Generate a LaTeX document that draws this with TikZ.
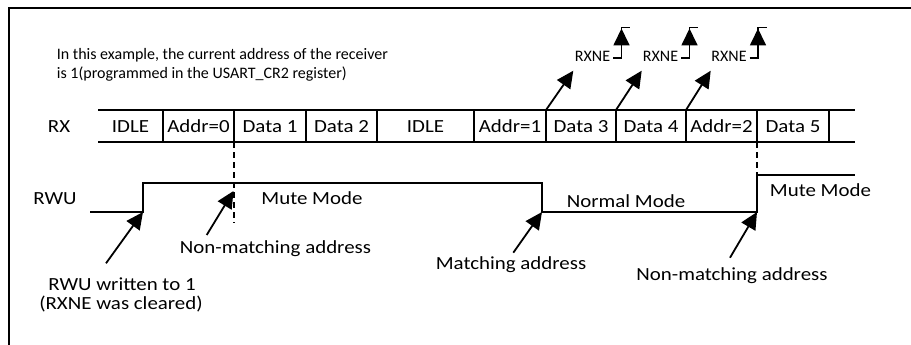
\documentclass[tikz,border=0pt]{standalone}
\usepackage{fontspec}
\setmainfont{Carlito}
\newfontfamily\lblfont[FakeStretch=1.13]{Carlito}
\usetikzlibrary{arrows.meta}
\begin{document}
\begin{tikzpicture}[x=1pt,y=-1pt,
  lbl/.style={font=\lblfont\fontsize{18.5}{22}\selectfont, inner sep=0pt, anchor=base},
  sml/.style={font=\fontsize{16}{18}\selectfont, inner sep=0pt, anchor=base west},
  rxnelbl/.style={font=\fontsize{16}{18}\selectfont, inner sep=0pt, anchor=base},
  sig/.style={line width=1.8pt},
  framel/.style={line width=2.3pt},
  dashln/.style={line width=1.8pt, dash pattern=on 6pt off 4pt},
  arr/.style={line width=1.8pt, -{Triangle[length=17pt,width=16pt]}},
]
\useasboundingbox (0,0) rectangle (911,345);
\fill[white] (0,0) rectangle (911,345);

% frame
\coordinate (fbl) at (9,345);
\coordinate (ftl) at (9,8);
\coordinate (ftr) at (911,8);
\draw[framel] (fbl) -- (ftl) -- (ftr);

% note
\node[sml] (note1) at (56.7,60) {In this example, the current address of the receiver};
\node[sml] (note2) at (56.7,78) {is 1(programmed in the USART\_CR2 register)};

% RX row
\coordinate (rxTL) at (98,110);
\coordinate (rxTR) at (855,110);
\coordinate (rxBL) at (98,142);
\coordinate (rxBR) at (855,142);
\draw[sig] (rxTL) -- (rxTR);
\draw[sig] (rxBL) -- (rxBR);
\foreach \x/\n in {163/s1,234/s2,306/s3,377/s4,474/s5,546/s6,616/s7,686/s8,757/s9,829/s10}{
  \coordinate (\n t) at (\x,110);
  \coordinate (\n b) at (\x,142);
  \draw[sig] (\n t) -- (\n b);
}
\node[lbl] (rxlab) at (59,132) {RX};
\node[lbl] (c1) at (130.5,132) {IDLE};
\node[lbl] (c2) at (198.5,132) {Addr=0};
\node[lbl] (c3) at (270,132) {Data 1};
\node[lbl] (c4) at (341.5,132) {Data 2};
\node[lbl] (c5) at (425.5,132) {IDLE};
\node[lbl] (c6) at (510,132) {Addr=1};
\node[lbl] (c7) at (581,132) {Data 3};
\node[lbl] (c8) at (651,132) {Data 4};
\node[lbl] (c9) at (721.5,132) {Addr=2};
\node[lbl] (c10) at (793,132) {Data 5};

% RWU waveform
\node[lbl] (rwulab) at (55,204) {RWU};
\coordinate (w0) at (90,212);
\coordinate (w1) at (143,212);
\coordinate (w2) at (143,183);
\coordinate (w3) at (542,183);
\coordinate (w4) at (542,212);
\coordinate (w5) at (757,212);
\coordinate (w6) at (757,175);
\coordinate (w7) at (855,175);
\draw[sig] (w0) -- (w1) -- (w2) -- (w3) -- (w4) -- (w5) -- (w6) -- (w7);

% dashed markers
\coordinate (d1e) at (234,223);
\draw[dashln] (s2b) -- (d1e);
\draw[dashln] (s9b) -- (w6);

% mode labels
\node[lbl] (mute1) at (312,204.3) {Mute Mode};
\node[lbl] (normal) at (626,207.5) {Normal Mode};
\node[lbl] (mute2) at (820.5,196.5) {Mute Mode};

% event labels
\node[lbl] (nonm1) at (275.5,253.3) {Non-matching address};
\node[lbl] (rwuw1) at (122,290.5) {RWU written to 1};
\node[lbl] (rwuw2) at (121,309) {(RXNE was cleared)};
\node[lbl] (match) at (511,269) {Matching address};
\node[lbl] (nonm2) at (732,280) {Non-matching address};

% event arrows
\coordinate (a1s) at (106,263.3);
\coordinate (a2s) at (206.7,235);
\coordinate (a2t) at (233.5,191);
\coordinate (a3s) at (513.3,252.7);
\coordinate (a4s) at (730,257.7);
\draw[arr] (a1s) -- (w1);
\draw[arr] (a2s) -- (a2t);
\draw[arr] (a3s) -- (w4);
\draw[arr] (a4s) -- (w5);

% RXNE flags
\foreach \i/\cx/\tx in {1/592.5/573.3, 2/660.5/641.7, 3/729/710.7}{
  \node[rxnelbl] (rxne\i) at (\cx,61.5) {RXNE};
  \coordinate (rl\i) at (\cx+20.5,58.3);
  \coordinate (rb\i) at (\cx+29,58.3);
  \coordinate (rt\i) at (\cx+29,27.5);
  \coordinate (rh\i) at (\cx+29,28.5);
  \coordinate (rr\i) at (\cx+37.5,27.5);
  \coordinate (rx\i) at (\tx,70.7);
  \draw[sig] (rl\i) -- (rb\i) -- (rt\i) -- (rr\i);
  \draw[arr] (rb\i) -- (rh\i);
}
\draw[arr] (s6t) -- (rx1);
\draw[arr] (s7t) -- (rx2);
\draw[arr] (s8t) -- (rx3);
\end{tikzpicture}
\end{document}
